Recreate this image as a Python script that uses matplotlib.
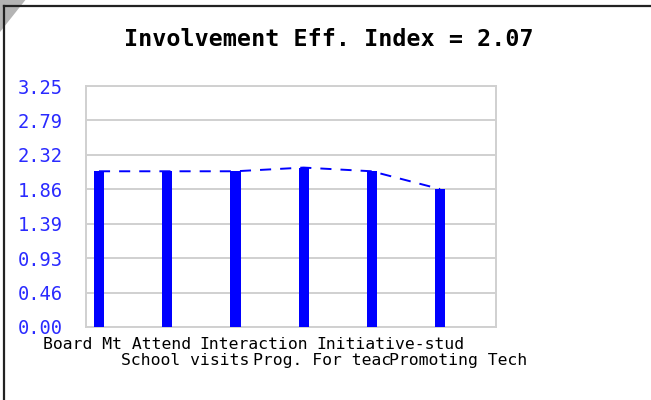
import matplotlib
matplotlib.use("Agg")
import matplotlib.pyplot as plt
from matplotlib.patches import Polygon

plt.rcParams['font.family'] = 'DejaVu Sans Mono'
plt.rcParams['lines.scale_dashes'] = False

categories = ['Board Mt Attend', 'School visits', 'Interaction',
              'Prog. For teac', 'Initiative-stud', 'Promoting Tech']
values = [2.1, 2.1, 2.1, 2.15, 2.1, 1.86]
yticks = [0.00, 0.46, 0.93, 1.39, 1.86, 2.32, 2.79, 3.25]
title = 'Involvement Eff. Index = 2.07'

fig = plt.figure(figsize=(6.51, 4.00), dpi=100)

# page corner + frame
fig.patches.append(Polygon([[0, 1], [0.039, 1], [0, 0.92]], closed=True,
                           transform=fig.transFigure, facecolor='#b4b4b4',
                           edgecolor='none', zorder=0))
fig.add_artist(plt.Line2D([0.0068, 0.0068], [0, 0.986], color='#222222', lw=1.6))
fig.add_artist(plt.Line2D([0.0068, 1], [0.986, 0.986], color='#222222', lw=1.6))

ax = fig.add_axes([86 / 651, 73 / 400, 410 / 651, 241 / 400])
x = list(range(len(values)))

ax.plot(x, values, color='#0000ff', lw=1.4, dashes=(8, 6.5), zorder=2)
ax.bar(x, values, width=0.15, color='#0000ff', zorder=3)

ax.set_xlim(-0.19, 5.82)
ax.set_ylim(0, 3.25)
ax.set_yticks(yticks)
ax.set_yticklabels(['%.2f' % v for v in yticks], color='#2a2aff', fontsize=13.5)
ax.tick_params(axis='y', length=0, pad=17)
ax.set_xticks([])
ax.grid(axis='y', color='#d0d0d0', lw=1.4, zorder=0)
for s in ax.spines.values():
    s.set_color('#d0d0d0')
    s.set_linewidth(1.4)

for i, lab in enumerate(categories):
    ax.text(i + 0.27, -0.13 if i % 2 == 0 else -0.35, lab,
            transform=ax.transData, ha='center', va='top', fontsize=11.8)

fig.text(0.505, 0.9, title, ha='center', va='center',
         fontsize=16.8, fontweight='bold')

fig.savefig('out.png', dpi=100)
